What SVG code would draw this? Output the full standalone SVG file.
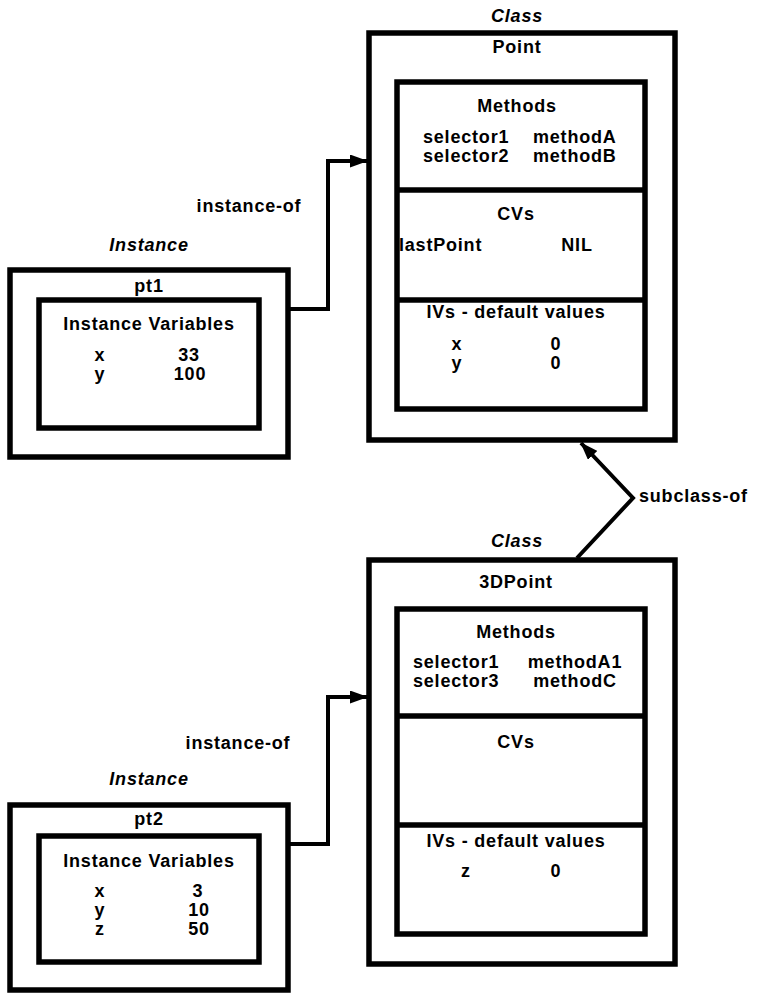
<svg xmlns="http://www.w3.org/2000/svg" width="760" height="995" viewBox="0 0 760 995">
<style>
  text { font-family: "Liberation Sans", Arial, sans-serif; font-weight: bold; font-size: 18px; letter-spacing: 0.8px; fill: #000; }
  .it { font-style: italic; }
  .c { text-anchor: middle; }
  .box { fill: #fff; stroke: #000; stroke-width: 5.5; }
  .div { stroke: #000; stroke-width: 5.5; }
  .conn { fill: none; stroke: #000; stroke-width: 4; }
</style>
<defs>
  <marker id="arr" markerUnits="userSpaceOnUse" markerWidth="18" markerHeight="13" refX="17" refY="6.5" orient="auto">
    <path d="M0,0 L18,6.5 L0,13 z" fill="#000"/>
  </marker>
</defs>
<rect width="760" height="995" fill="#fff"/>

<g id="point-class">
  <text x="517" y="22" class="c it">Class</text>
  <rect x="369" y="33" width="306" height="407" class="box"/>
  <text x="517" y="53" class="c">Point</text>
  <rect x="397" y="82" width="248" height="327" class="box"/>
  <line x1="397" y1="190" x2="645" y2="190" class="div"/>
  <line x1="397" y1="300" x2="645" y2="300" class="div"/>
  <text x="517" y="112" class="c">Methods</text>
  <text x="423" y="143">selector1</text>
  <text x="533" y="143">methodA</text>
  <text x="423" y="162">selector2</text>
  <text x="533" y="162">methodB</text>
  <text x="516" y="220" class="c">CVs</text>
  <text x="399" y="251">lastPoint</text>
  <text x="577" y="251" class="c">NIL</text>
  <text x="516" y="318" class="c">IVs - default values</text>
  <text x="457" y="350" class="c">x</text>
  <text x="556" y="350" class="c">0</text>
  <text x="457" y="369" class="c">y</text>
  <text x="556" y="369" class="c">0</text>
</g>

<g id="pt1">
  <text x="149" y="251" class="c it">Instance</text>
  <rect x="10" y="270" width="278" height="187" class="box"/>
  <text x="149" y="292" class="c">pt1</text>
  <rect x="39" y="300" width="220" height="128" class="box"/>
  <text x="149" y="330" class="c">Instance Variables</text>
  <text x="100" y="361" class="c">x</text>
  <text x="189" y="361" class="c">33</text>
  <text x="100" y="380" class="c">y</text>
  <text x="190" y="380" class="c">100</text>
</g>

<g id="point3d-class">
  <text x="517" y="547" class="c it">Class</text>
  <rect x="369" y="560" width="306" height="404" class="box"/>
  <text x="516" y="588" class="c">3DPoint</text>
  <rect x="397" y="609" width="248" height="325" class="box"/>
  <line x1="397" y1="716" x2="645" y2="716" class="div"/>
  <line x1="397" y1="825" x2="645" y2="825" class="div"/>
  <text x="516" y="638" class="c">Methods</text>
  <text x="413" y="668">selector1</text>
  <text x="575" y="668" class="c">methodA1</text>
  <text x="413" y="687">selector3</text>
  <text x="575" y="687" class="c">methodC</text>
  <text x="516" y="748" class="c">CVs</text>
  <text x="516" y="847" class="c">IVs - default values</text>
  <text x="466" y="877" class="c">z</text>
  <text x="556" y="877" class="c">0</text>
</g>

<g id="pt2">
  <text x="149" y="785" class="c it">Instance</text>
  <rect x="10" y="805" width="278" height="185" class="box"/>
  <text x="149" y="825" class="c">pt2</text>
  <rect x="39" y="836" width="220" height="126" class="box"/>
  <text x="149" y="867" class="c">Instance Variables</text>
  <text x="100" y="897" class="c">x</text>
  <text x="198" y="897" class="c">3</text>
  <text x="100" y="916" class="c">y</text>
  <text x="199" y="916" class="c">10</text>
  <text x="100" y="935" class="c">z</text>
  <text x="199" y="935" class="c">50</text>
</g>

<g id="connectors">
  <path d="M290,309 H328 V161 H367" class="conn" marker-end="url(#arr)"/>
  <text x="249" y="212" class="c">instance-of</text>
  <path d="M290,844 H328 V697 H367" class="conn" marker-end="url(#arr)"/>
  <text x="238" y="749" class="c">instance-of</text>
  <path d="M577,558 L633,498 L581,443" class="conn" marker-end="url(#arr)"/>
  <text x="639" y="502">subclass-of</text>
</g>
</svg>
